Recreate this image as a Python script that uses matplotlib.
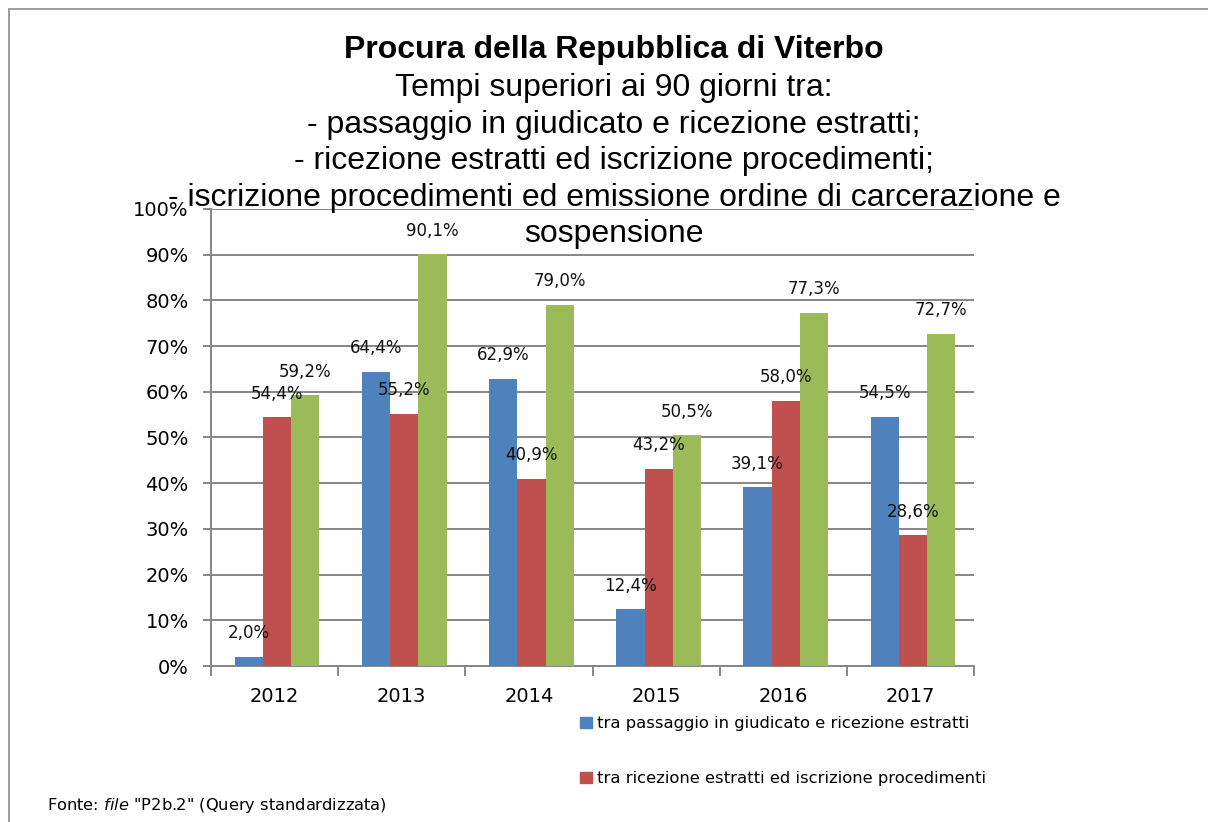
import numpy as np
import matplotlib
matplotlib.use("Agg")
import matplotlib.pyplot as plt
import matplotlib.patches as mpatches
from matplotlib import font_manager

# Dati
anni = ['2012', '2013', '2014', '2015', '2016', '2017']
passaggio_ricezione = [2.0, 64.4, 62.9, 12.4, 39.1, 54.5]
ricezione_iscrizione = [54.4, 55.2, 40.9, 43.2, 58.0, 28.6]
iscrizione_emissione = [59.2, 90.1, 79.0, 50.5, 77.3, 72.7]

nomi_serie = ['tra passaggio in giudicato e ricezione estratti',
              'tra ricezione estratti ed iscrizione procedimenti',
              'tra iscrizione procedimenti ed emissione ordine di carcerazione e sospensione']
colori = ['#4F81BD', '#C0504D', '#9BBB59']

titolo = 'Procura della Repubblica di Viterbo'
sottotitolo = ['Tempi superiori ai 90 giorni tra:',
               '- passaggio in giudicato e ricezione estratti;',
               '- ricezione estratti ed iscrizione procedimenti;',
               '- iscrizione procedimenti ed emissione ordine di carcerazione e',
               'sospensione']


# Liberation Sans normale (non Narrow)
def trova_font(bold):
    for f in font_manager.fontManager.ttflist:
        if f.name == 'Liberation Sans' and 'Narrow' not in f.fname and f.style == 'normal':
            if (f.weight >= 600) == bold:
                return font_manager.FontProperties(fname=f.fname)
    return font_manager.FontProperties(family='Liberation Sans',
                                       weight='bold' if bold else 'normal')


fp_bold = trova_font(True)
fp_reg = trova_font(False)

W, H = 1208, 822
fig = plt.figure(figsize=(W / 100, H / 100), dpi=100)

# bordo grigio del grafico
bordo = mpatches.Rectangle((9 / W, -0.1), 1.2, 1.1 - 9 / H, transform=fig.transFigure,
                           fill=False, edgecolor='#8c8c8c', linewidth=1.2, clip_on=False)
fig.patches.append(bordo)

ax = fig.add_axes([211 / W, 1 - 666 / H, (974 - 211) / W, (666 - 209) / H])

x = np.arange(len(anni))
larghezza = 0.222
serie = [passaggio_ricezione, ricezione_iscrizione, iscrizione_emissione]
for i, (valori, colore) in enumerate(zip(serie, colori)):
    pos = x + (i - 1) * larghezza + 0.02
    ax.bar(pos, valori, width=larghezza, color=colore, zorder=3)
    for px, v in zip(pos, valori):
        ax.annotate(f'{v:.1f}%'.replace('.', ','), (px, v), xytext=(0, 17),
                    textcoords='offset points', ha='center', va='center',
                    fontsize=12, color='#111111', family='DejaVu Sans', zorder=5)

ax.set_xlim(-0.5, len(anni) - 0.5)
ax.set_ylim(0, 100)
ax.set_yticks(np.arange(0, 101, 10))
ax.set_yticklabels([f'{v}%' for v in range(0, 101, 10)])
ax.yaxis.grid(True, color='#868686', linewidth=1.4, zorder=0)
ax.set_axisbelow(True)

ax.set_xticks(np.arange(-0.5, len(anni), 1.0))
ax.set_xticklabels([])
ax.set_xticks(x, minor=True)
ax.set_xticklabels(anni, minor=True)
ax.tick_params(axis='x', which='major', length=7, width=1.4, color='#868686', direction='out')
ax.tick_params(axis='x', which='minor', length=0, pad=15, labelsize=14)
ax.tick_params(axis='y', length=6, width=1.4, color='#868686', labelsize=14, pad=10)

for s in ['top', 'right']:
    ax.spines[s].set_visible(False)
for s in ['left', 'bottom']:
    ax.spines[s].set_color('#868686')
    ax.spines[s].set_linewidth(1.4)

# titolo (righe posizionate sulla linea di base)
fig.text(614 / W, 1 - 58 / H, titolo, ha='center', va='baseline', fontproperties=fp_bold,
         fontsize=23)
y_righe = [96, 133, 169, 206, 242]
for riga, yy in zip(sottotitolo, y_righe):
    fig.text(614 / W, 1 - yy / H, riga, ha='center', va='baseline', fontproperties=fp_reg,
             fontsize=23)

# legenda (la terza voce resta fuori dall'immagine)
handles = [mpatches.Patch(color=c) for c in colori[:2]]
fig.legend(handles, nomi_serie[:2], loc='upper left', bbox_to_anchor=(580 / W, 1 - 716 / H),
           frameon=False, fontsize=11.8, handlelength=0.75, handleheight=0.7,
           handletextpad=0.3, labelspacing=2.45, borderpad=0, borderaxespad=0)

# fonte
fig.text(47 / W, 1 - 805 / H, 'Fonte: $\\it{file}$ "P2b.2" (Query standardizzata)',
         ha='left', va='center', fontsize=11.7, family='DejaVu Sans')

fig.savefig('out.png', dpi=100)
